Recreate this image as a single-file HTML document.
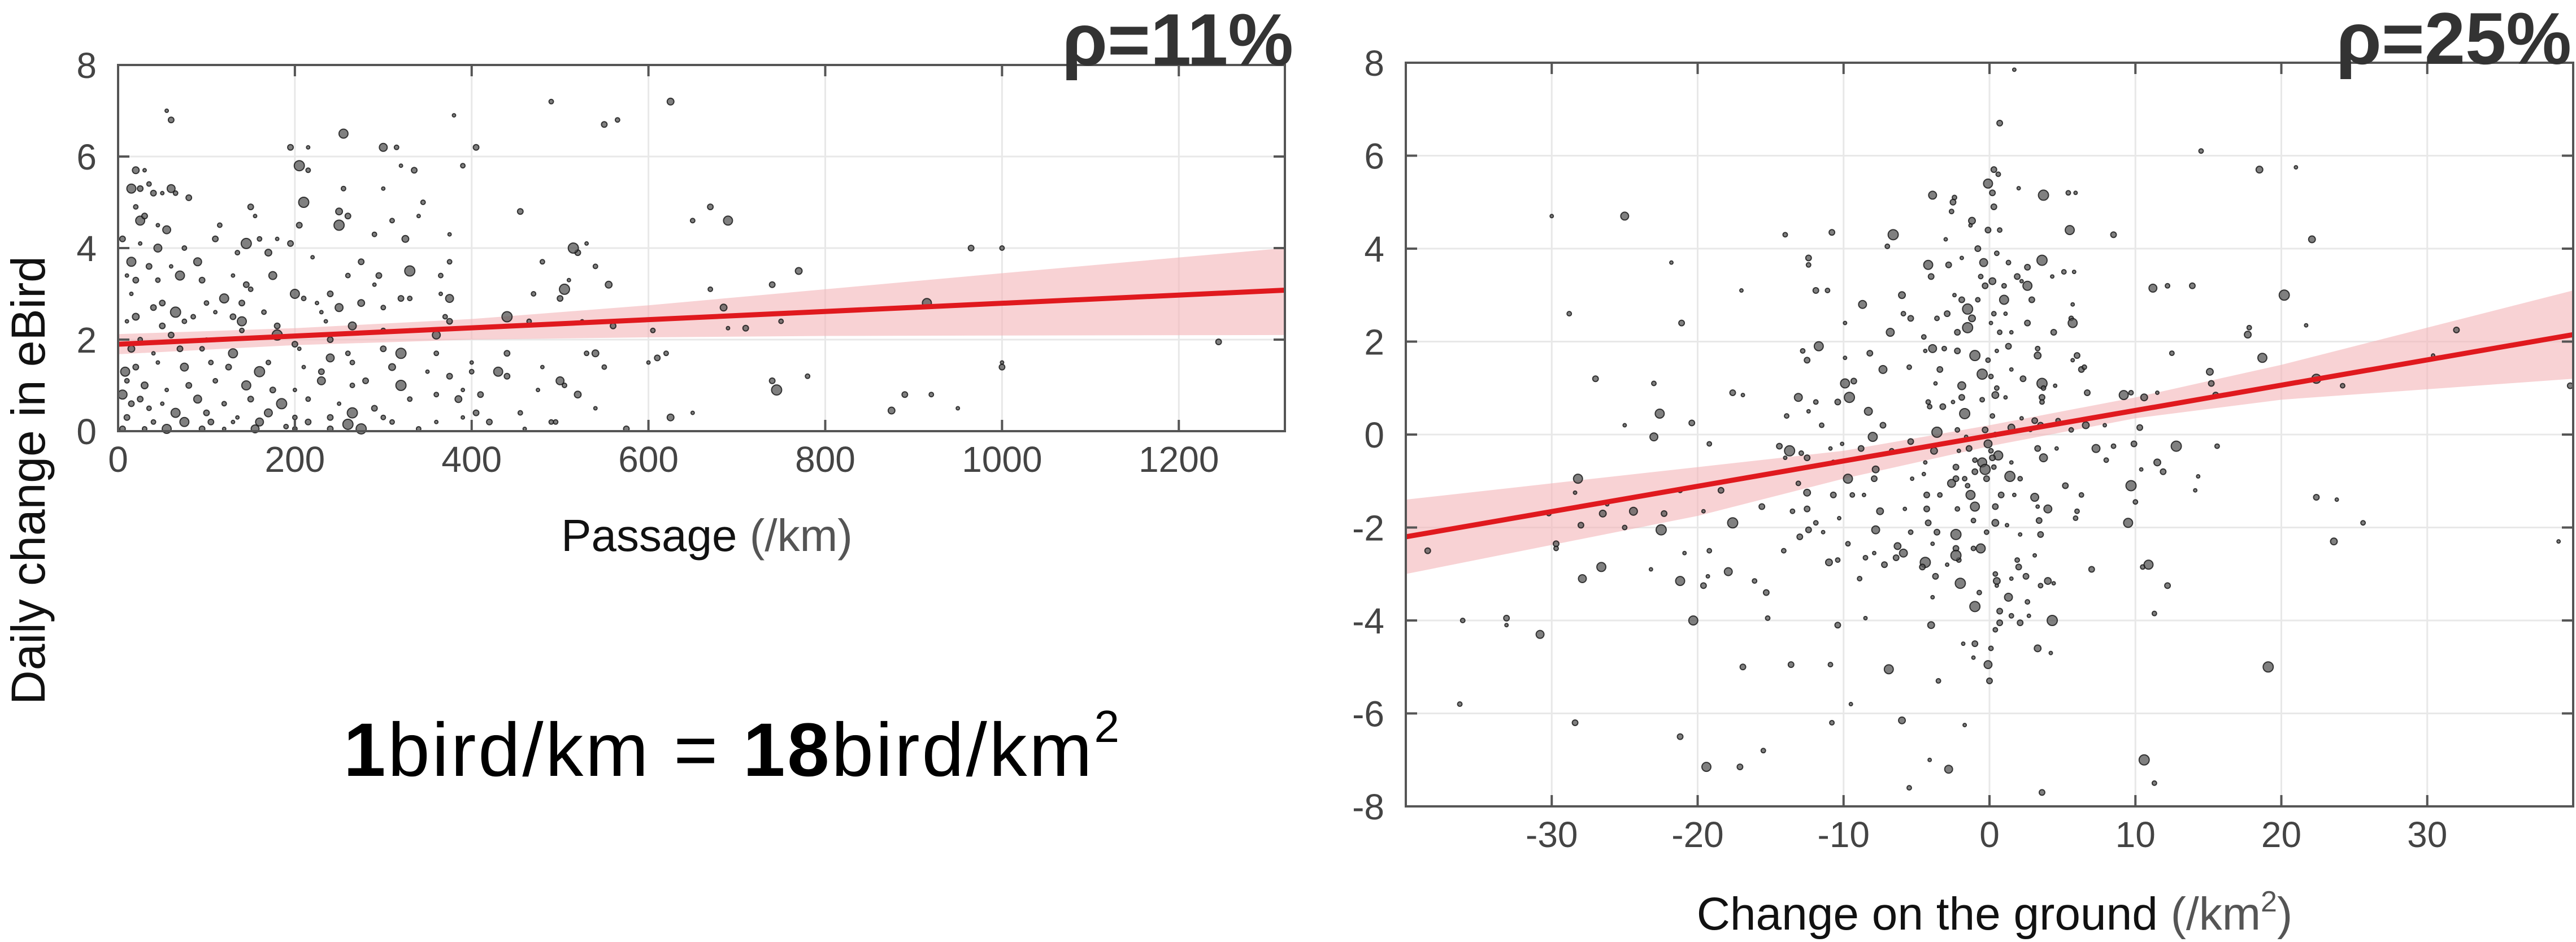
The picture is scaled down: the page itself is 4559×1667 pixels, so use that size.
<!DOCTYPE html>
<html><head><meta charset="utf-8"><style>
html,body{margin:0;padding:0;background:#fff;}
svg{display:block;font-family:"Liberation Sans",sans-serif;}
</style></head><body>
<svg id="fig" width="4559" height="1667" viewBox="0 0 4559 1667" xmlns="http://www.w3.org/2000/svg">
<g id="left"></g>
<g id="right"></g>
<text x="50" y="850" transform="rotate(-90 50 850)" text-anchor="middle" dominant-baseline="central" font-size="84" fill="#111">Daily change in eBird</text>
<text x="1251" y="975" text-anchor="middle" font-size="80" fill="#111">Passage <tspan fill="#555">(/km)</tspan></text>
<text x="3530" y="1645" text-anchor="middle" font-size="82" fill="#111">Change on the ground <tspan fill="#555">(/km<tspan font-size="52" dy="-32">2</tspan><tspan dy="32">)</tspan></tspan></text>
<text x="2289" y="115" text-anchor="end" font-size="130" font-weight="bold" fill="#333">ρ=11%</text>
<text x="4551" y="113" text-anchor="end" font-size="130" font-weight="bold" fill="#333">ρ=25%</text>
<text x="608" y="1373" font-size="134" fill="#000" textLength="1373"><tspan font-weight="bold">1</tspan>bird/km  = <tspan font-weight="bold">18</tspan>bird/km<tspan font-size="80" dy="-60">2</tspan></text>
</svg>
<script>
// ---- Left chart data ----
const leftXTicks = [0,200,400,600,800,1000,1200];
const leftYTicks = [0,2,4,6,8];
const leftFitX = [0,1320];
const leftFitY = [1.9,3.08];
const leftBandX = [0,200,400,600,800,1000,1320];
const leftBandLo = [1.68,1.88,2.0,2.05,2.08,2.09,2.1];
const leftBandHi = [2.12,2.25,2.45,2.75,3.1,3.45,4.0];
const leftPtsX = [55,60,490,625,380,550,565,255,195,215,300,315,405,205,215,320,335,390,20,30,25,35,15,40,50,60,65,80,210,255,300,150,345,250,155,260,20,25,30,45,55,115,205,250,310,340,455,290,325,375,670,650,690,5,25,45,75,110,145,160,180,195,135,170,220,275,375,15,35,60,90,480,520,515,540,530,965,1000,770,10,20,45,70,95,130,175,260,295,330,365,510,740,670,555,290,145,150,200,240,365,375,470,500,505,210,225,320,330,275,15,50,100,120,140,230,250,300,40,65,85,110,130,165,20,10,50,75,140,180,235,265,370,375,440,465,525,560,605,685,690,710,750,915,1245,330,360,300,240,180,140,100,60,25,15,40,70,95,130,200,205,240,260,300,320,360,400,440,530,540,600,610,620,8,20,45,75,105,125,160,170,210,230,265,310,350,375,400,430,440,480,500,550,740,745,780,1000,1000,10,30,55,80,110,145,175,200,230,265,280,320,360,390,410,505,520,475,890,920,5,25,50,90,120,150,185,215,250,290,330,385,540,15,35,65,100,135,170,200,240,265,300,390,405,455,875,950,10,40,75,105,130,160,190,215,260,310,360,420,495,625,650,5,30,55,95,120,155,200,240,275,340,460,575,490];
const leftPtsY = [7.0,6.8,7.2,7.2,6.9,6.7,6.8,6.5,6.2,6.2,6.2,6.2,6.2,5.8,5.7,5.8,5.7,5.8,5.7,5.7,5.3,5.4,5.3,5.2,5.2,5.3,5.2,5.1,5.0,5.3,5.3,4.9,5.0,4.8,4.7,4.7,4.9,4.6,4.7,4.5,4.4,4.5,4.5,4.5,4.6,4.7,4.8,4.3,4.2,4.3,4.9,4.6,4.6,4.2,4.1,4.0,4.0,4.2,4.1,4.2,4.2,4.1,3.9,3.9,3.8,3.7,3.7,3.7,3.6,3.6,3.7,3.7,3.9,4.0,3.6,4.1,4.0,4.0,3.5,3.4,3.3,3.3,3.4,3.3,3.4,3.4,3.4,3.4,3.5,3.4,3.3,3.2,3.1,3.2,3.2,3.2,3.1,3.0,3.0,3.0,2.9,3.0,2.9,3.1,2.9,2.8,2.9,2.9,2.8,3.0,2.8,2.8,2.9,2.8,2.6,2.7,2.7,2.7,2.6,2.5,2.6,2.5,2.6,2.5,2.4,2.3,2.4,2.4,2.3,2.4,2.3,2.5,2.4,2.5,2.4,2.4,2.3,2.2,2.7,2.25,2.25,2.4,2.8,1.95,2.2,2.1,2.2,2.0,2.1,2.2,2.0,2.1,2.0,1.8,1.7,1.8,1.8,1.7,1.9,1.8,1.6,1.7,1.8,1.7,1.7,1.5,1.7,1.7,1.7,1.5,1.6,1.7,1.3,1.4,1.5,1.4,1.5,1.4,1.3,1.5,1.4,1.3,1.5,1.4,1.3,1.2,1.3,1.3,1.2,1.4,1.1,1.4,1.1,0.9,1.2,1.5,1.4,1.1,1.0,0.9,1.0,1.1,1.0,0.9,0.9,1.1,1.0,1.1,1.0,0.8,0.9,0.8,1.0,0.8,0.9,0.8,0.8,0.8,0.7,0.6,0.7,0.6,0.7,0.6,0.7,0.6,0.5,0.7,0.7,0.5,0.6,0.5,0.4,0.4,0.3,0.4,0.3,0.3,0.4,0.3,0.3,0.4,0.4,0.45,0.5,0.3,0.2,0.2,0.2,0.2,0.2,0.1,0.2,0.15,0.2,0.2,0.2,0.2,0.3,0.4,0.05,0.05,0.05,0.05,0.05,0.05,0.05,0.05,0.05,0.05,0.05,0.05,0.2];

// ---- Right chart data ----
const rightXTicks = [-30,-20,-10,0,10,20,30];
const rightYTicks = [-8,-6,-4,-2,0,2,4,6,8];
const rightFitX = [-40,40];
const rightFitY = [-2.2,2.15];
const rightBandX = [-40,-20,-10,0,10,20,40];
const rightBandLo = [-3.0,-1.75,-0.95,-0.25,0.35,0.75,1.2];
const rightBandHi = [-1.4,-0.7,-0.35,0.2,0.8,1.5,3.1];
const rightPts = [[1.7,7.85],[0.7,6.7],[14.5,6.1],[18.5,5.7],[21,5.75],[0.3,5.7],[0.6,5.6],[-0.1,5.4],[0.2,5.2],[2,5.3],[-3.9,5.15],[-2.4,5.1],[-2.5,5.0],[3.7,5.15],[5.4,5.2],[5.9,5.2],[0.3,4.9],[-2.6,4.8],[-1.2,4.6],[-1.3,4.5],[-0.1,4.4],[0.7,4.4],[5.5,4.4],[8.5,4.3],[-30,4.7],[-25,4.7],[-14,4.3],[-10.8,4.35],[-6.6,4.3],[-7,4.05],[-3,4.2],[-0.8,4.0],[0.5,3.9],[22.1,4.2],[-21.8,3.7],[-12.4,3.8],[-12.4,3.65],[-4.2,3.65],[-2.8,3.65],[-1.9,3.8],[-0.4,3.7],[1.3,3.7],[2.6,3.6],[3.6,3.75],[5.1,3.5],[5.8,3.5],[-4,3.4],[-0.6,3.4],[0.2,3.3],[2.2,3.3],[-0.3,3.2],[1.0,3.2],[2.6,3.2],[1.9,3.4],[4.3,3.4],[11.2,3.15],[12.2,3.2],[13.9,3.2],[20.2,3.0],[-28.8,2.6],[-17,3.1],[-11.9,3.1],[-11.1,3.1],[-6.0,3.0],[-2.4,3.0],[-1.9,2.9],[-0.8,2.9],[1.0,2.9],[2.9,2.9],[5.7,2.8],[-8.7,2.8],[-5.9,2.6],[-2.9,2.6],[-1.5,2.7],[0.3,2.6],[1.1,2.6],[-5.4,2.5],[-3.6,2.5],[-1.2,2.5],[0.1,2.4],[2.6,2.4],[5.6,2.5],[5.7,2.4],[-21.1,2.4],[-9.9,2.4],[-6.8,2.2],[-4.5,2.1],[-2.2,2.2],[-1.5,2.3],[0.7,2.2],[1.5,2.2],[4.4,2.2],[17.8,2.3],[17.7,2.15],[21.7,2.35],[32,2.25],[-12.8,1.8],[-11.7,1.9],[-8.2,1.75],[-4.4,1.8],[-3.9,1.85],[-3.1,1.85],[-2.2,1.8],[-1.0,1.7],[-0.1,1.6],[0.5,1.8],[1.3,1.9],[3.3,1.85],[3.3,1.7],[5.7,1.6],[6.0,1.7],[12.5,1.75],[18.7,1.65],[-12.5,1.6],[-9.9,1.65],[-7.3,1.4],[-5.5,1.45],[-3.4,1.4],[-0.5,1.3],[0.1,1.25],[1.5,1.4],[6.3,1.4],[6.5,1.45],[15.1,1.35],[30.4,1.7],[-27,1.2],[-23,1.1],[-9.9,1.1],[-9.3,1.15],[-3.7,1.1],[-1.9,1.05],[0.5,1.0],[2.3,1.2],[3.6,1.1],[3.7,1.0],[4.5,1.05],[6.7,0.9],[9.7,0.9],[10.6,0.8],[11.5,0.9],[15.2,1.1],[24.2,1.05],[22.4,1.2],[-17.6,0.9],[-16.9,0.85],[-13.1,0.8],[-11.9,0.7],[-10.4,0.7],[-9.6,0.8],[-4.2,0.7],[-2.5,0.7],[-1.9,0.8],[-0.5,0.75],[0.4,0.85],[1.1,0.8],[3.6,0.8],[3.6,0.7],[9.2,0.85],[15.5,0.85],[-12.4,0.5],[-8.3,0.5],[-4.1,0.6],[-3.2,0.6],[-1.7,0.45],[0.2,0.4],[2.2,0.35],[3.1,0.3],[4.7,0.3],[6.6,0.2],[7.9,0.2],[10.3,0.15],[-13.9,0.4],[-22.6,0.45],[-20.4,0.25],[-25,0.2],[-23,-0.05],[-11.5,0.2],[-7.3,0.2],[-3.6,0.05],[-2.2,0.1],[-1.6,-0.05],[-0.3,0.1],[0.4,0.0],[1.5,0.15],[2.8,0.1],[3.5,0.2],[5.6,0.1],[-8,-0.05],[-5.4,-0.15],[-10.1,-0.2],[-0.1,-0.2],[-19.2,-0.2],[-14.4,-0.25],[-13.7,-0.35],[-12.9,-0.4],[-10.9,-0.3],[-8.8,-0.3],[-6.7,-0.35],[-3.8,-0.35],[-2.1,-0.35],[-1.4,-0.3],[0.1,-0.35],[0.6,-0.45],[3.3,-0.3],[4.6,-0.3],[7.3,-0.3],[8.5,-0.25],[9.9,-0.2],[12.8,-0.25],[15.6,-0.25],[-14,-0.5],[-12.5,-0.5],[-10.7,-0.6],[-7.8,-0.75],[-4.4,-0.6],[-2.3,-0.7],[-1.0,-0.55],[-0.5,-0.6],[0.2,-0.5],[1.5,-0.6],[3.7,-0.5],[8.0,-0.55],[-1.0,-0.8],[-0.3,-0.75],[0.3,-0.7],[-4.5,-0.85],[-2.3,-0.95],[-1.7,-0.95],[11.5,-0.6],[10.4,-0.75],[11.9,-0.8],[-13.1,-1.05],[-9.7,-0.95],[-7.9,-0.95],[-5.3,-0.95],[-2.6,-1.05],[-1.5,-1.1],[-0.2,-0.95],[1.4,-0.9],[2.1,-0.95],[14.3,-0.9],[-10.7,-1.3],[-9.4,-1.3],[-12.5,-1.25],[-8.6,-1.3],[-4.3,-1.3],[-3.4,-1.3],[-1.3,-1.3],[0.8,-1.3],[1.7,-1.3],[3.1,-1.35],[6.3,-1.3],[5.2,-1.1],[9.7,-1.1],[10.0,-1.45],[14.1,-1.2],[-12.5,-1.6],[-13.5,-1.65],[-7.5,-1.65],[-5.8,-1.6],[-4.3,-1.6],[-2.2,-1.6],[-1.0,-1.55],[0.4,-1.55],[3.3,-1.55],[4.0,-1.6],[6.0,-1.65],[-15.6,-1.55],[-17.6,-1.9],[-11.9,-1.9],[-10.3,-1.8],[-4.2,-1.9],[-1.1,-1.85],[0.4,-1.9],[1.2,-1.95],[3.4,-1.85],[5.9,-1.8],[9.5,-1.9],[-12.4,-2.05],[-11.4,-2.1],[-7.8,-2.05],[-5.4,-2.1],[-3.6,-2.1],[-2.3,-2.15],[-0.2,-2.1],[2.1,-2.15],[3.5,-2.15],[-9.7,-2.35],[-6.3,-2.4],[-3.9,-2.35],[-2.3,-2.45],[-1.1,-2.45],[-0.6,-2.45],[-13,-2.2],[-7.9,-2.55],[-5.9,-2.55],[-8.5,-2.65],[-6.4,-2.65],[-4.4,-2.75],[-2.1,-2.7],[-2.9,-2.8],[-7.2,-2.8],[-10.4,-2.7],[-11,-2.75],[-20.9,-2.55],[-29.7,-2.35],[-29.7,-2.45],[-26.6,-2.85],[-38.5,-2.5],[-23.2,-2.9],[-17.9,-2.95],[-14.1,-2.5],[-4.6,-2.85],[-2.3,-2.6],[1.9,-2.7],[3.1,-2.6],[2.0,-2.85],[0.4,-3.0],[0.5,-3.15],[1.5,-3.1],[-3.7,-3.05],[-8.9,-3.1],[-21.2,-3.15],[-19.6,-3.25],[-19.3,-3.05],[-27.9,-3.1],[-16.1,-3.15],[-15.3,-3.4],[-2.0,-3.2],[-0.7,-3.4],[0.5,-3.25],[2.5,-3.05],[3.5,-3.25],[4.0,-3.15],[4.4,-3.2],[7.0,-2.9],[10.5,-2.85],[10.9,-2.8],[12.2,-3.25],[-3.9,-3.5],[1.3,-3.5],[2.6,-3.6],[0.7,-3.8],[-1.0,-3.7],[1.5,-3.9],[2.7,-3.9],[0.7,-4.05],[0.4,-4.2],[-4,-4.1],[-8.5,-3.95],[-10.4,-4.1],[-15.2,-3.95],[-20.3,-4.0],[-33.1,-3.95],[-33.1,-4.1],[-30.8,-4.3],[-36.1,-4.0],[2.1,-4.05],[4.3,-4.0],[11.3,-3.85],[-1.8,-4.5],[-1.0,-4.5],[0.1,-4.6],[3.3,-4.6],[4.2,-4.7],[-13.6,-4.95],[-10.9,-4.95],[-6.9,-5.05],[-16.9,-5.0],[-1.1,-4.8],[-0.1,-4.95],[-3.5,-5.3],[0,-5.3],[19.1,-5.0],[-36.3,-5.8],[-9.5,-5.8],[-28.4,-6.2],[-10.8,-6.2],[-6.0,-6.15],[-1.7,-6.25],[-21.2,-6.5],[-15.5,-6.8],[-19.4,-7.15],[-17.1,-7.15],[-4.1,-7.0],[-2.8,-7.2],[-5.5,-7.6],[3.6,-7.7],[10.6,-7.0],[11.3,-7.5],[23.8,-1.4],[22.4,-1.35],[25.6,-1.9],[23.6,-2.3],[39,-2.3],[39.8,1.05],[-30.2,-1.7],[-28.2,-0.95],[-28,-1.95],[-26.2,-1.5],[-24.4,-1.65],[-25,-2.0],[-22.3,-1.7],[-22.5,-2.05],[-21.2,-1.2],[-19.6,-1.65],[-18.4,-1.2],[-19.2,-2.5],[-26.5,-1.7],[-28.4,-1.25]];

const NS = 'http://www.w3.org/2000/svg';
const markerR = [3,5,4,6,3,5,4,8,5,3,7,4,5,9,4];
function mk(parent, tag, attrs){
  const e = document.createElementNS(NS, tag);
  for (const k in attrs) e.setAttribute(k, attrs[k]);
  parent.appendChild(e);
  return e;
}
function drawChart(g, box, dom, xt, yt, xs, ys, fx, fy, bx, blo, bhi, prefix){
  const sx = v => box.x0 + (v - dom.x0) / (dom.x1 - dom.x0) * (box.x1 - box.x0);
  const sy = v => box.y1 - (v - dom.y0) / (dom.y1 - dom.y0) * (box.y1 - box.y0);
  xt.forEach(t => {
    const l = mk(g, 'line', {x1:sx(t), x2:sx(t), y1:box.y0, y2:box.y1, stroke:'#e8e8e8', 'stroke-width':3});
    
    
  });
  yt.forEach(t => {
    const l = mk(g, 'line', {x1:box.x0, x2:box.x1, y1:sy(t), y2:sy(t), stroke:'#e8e8e8', 'stroke-width':3});
    
    
  });
  let d = '';
  bx.forEach((v,i) => { d += (i ? 'L' : 'M') + sx(v) + ',' + sy(bhi[i]); });
  for (let i = bx.length - 1; i >= 0; i--) d += 'L' + sx(bx[i]) + ',' + sy(blo[i]);
  const band = mk(g, 'path', {d: d + 'Z', fill:'#f4b4b8', 'fill-opacity':0.6});
  
  
  xs.forEach((v,i) => {
    const c = mk(g, 'circle', {cx:sx(v), cy:sy(ys[i]), r:markerR[i % markerR.length], fill:'#555', 'fill-opacity':0.75, stroke:'#111', 'stroke-opacity':0.8, 'stroke-width':2});
    
    
  });
  const fit = mk(g, 'line', {x1:sx(fx[0]), y1:sy(fy[0]), x2:sx(fx[1]), y2:sy(fy[1]), stroke:'#e0191e', 'stroke-width':9});
  
  
  const frame = mk(g, 'rect', {x:box.x0, y:box.y0, width:box.x1-box.x0, height:box.y1-box.y0, fill:'none', stroke:'#555', 'stroke-width':4});
  
  
  const tl = 20;
  xt.forEach(t => {
    mk(g, 'line', {x1:sx(t), x2:sx(t), y1:box.y1, y2:box.y1 - tl, stroke:'#555', 'stroke-width':4});
    mk(g, 'line', {x1:sx(t), x2:sx(t), y1:box.y0, y2:box.y0 + tl, stroke:'#555', 'stroke-width':4});
    const tx = mk(g, 'text', {x:sx(t), y:box.y1 + 72, 'text-anchor':'middle', 'font-size':64, fill:'#444'});
    tx.textContent = String(t);
    
    
  });
  yt.forEach(t => {
    mk(g, 'line', {x1:box.x0, x2:box.x0 + tl, y1:sy(t), y2:sy(t), stroke:'#555', 'stroke-width':4});
    mk(g, 'line', {x1:box.x1, x2:box.x1 - tl, y1:sy(t), y2:sy(t), stroke:'#555', 'stroke-width':4});
    const ty = mk(g, 'text', {x:box.x0 - 38, y:sy(t) + 23, 'text-anchor':'end', 'font-size':64, fill:'#444'});
    ty.textContent = String(t);
    
    
  });
}
drawChart(document.getElementById('left'), {x0:209,x1:2274,y0:115,y1:763}, {x0:0,x1:1320,y0:0,y1:8},
  leftXTicks, leftYTicks, leftPtsX, leftPtsY, leftFitX, leftFitY, leftBandX, leftBandLo, leftBandHi, 'left');
drawChart(document.getElementById('right'), {x0:2488,x1:4554,y0:111,y1:1427}, {x0:-40,x1:40,y0:-8,y1:8},
  rightXTicks, rightYTicks, rightPts.map(p=>p[0]), rightPts.map(p=>p[1]), rightFitX, rightFitY, rightBandX, rightBandLo, rightBandHi, 'right');
</script>
</body></html>
